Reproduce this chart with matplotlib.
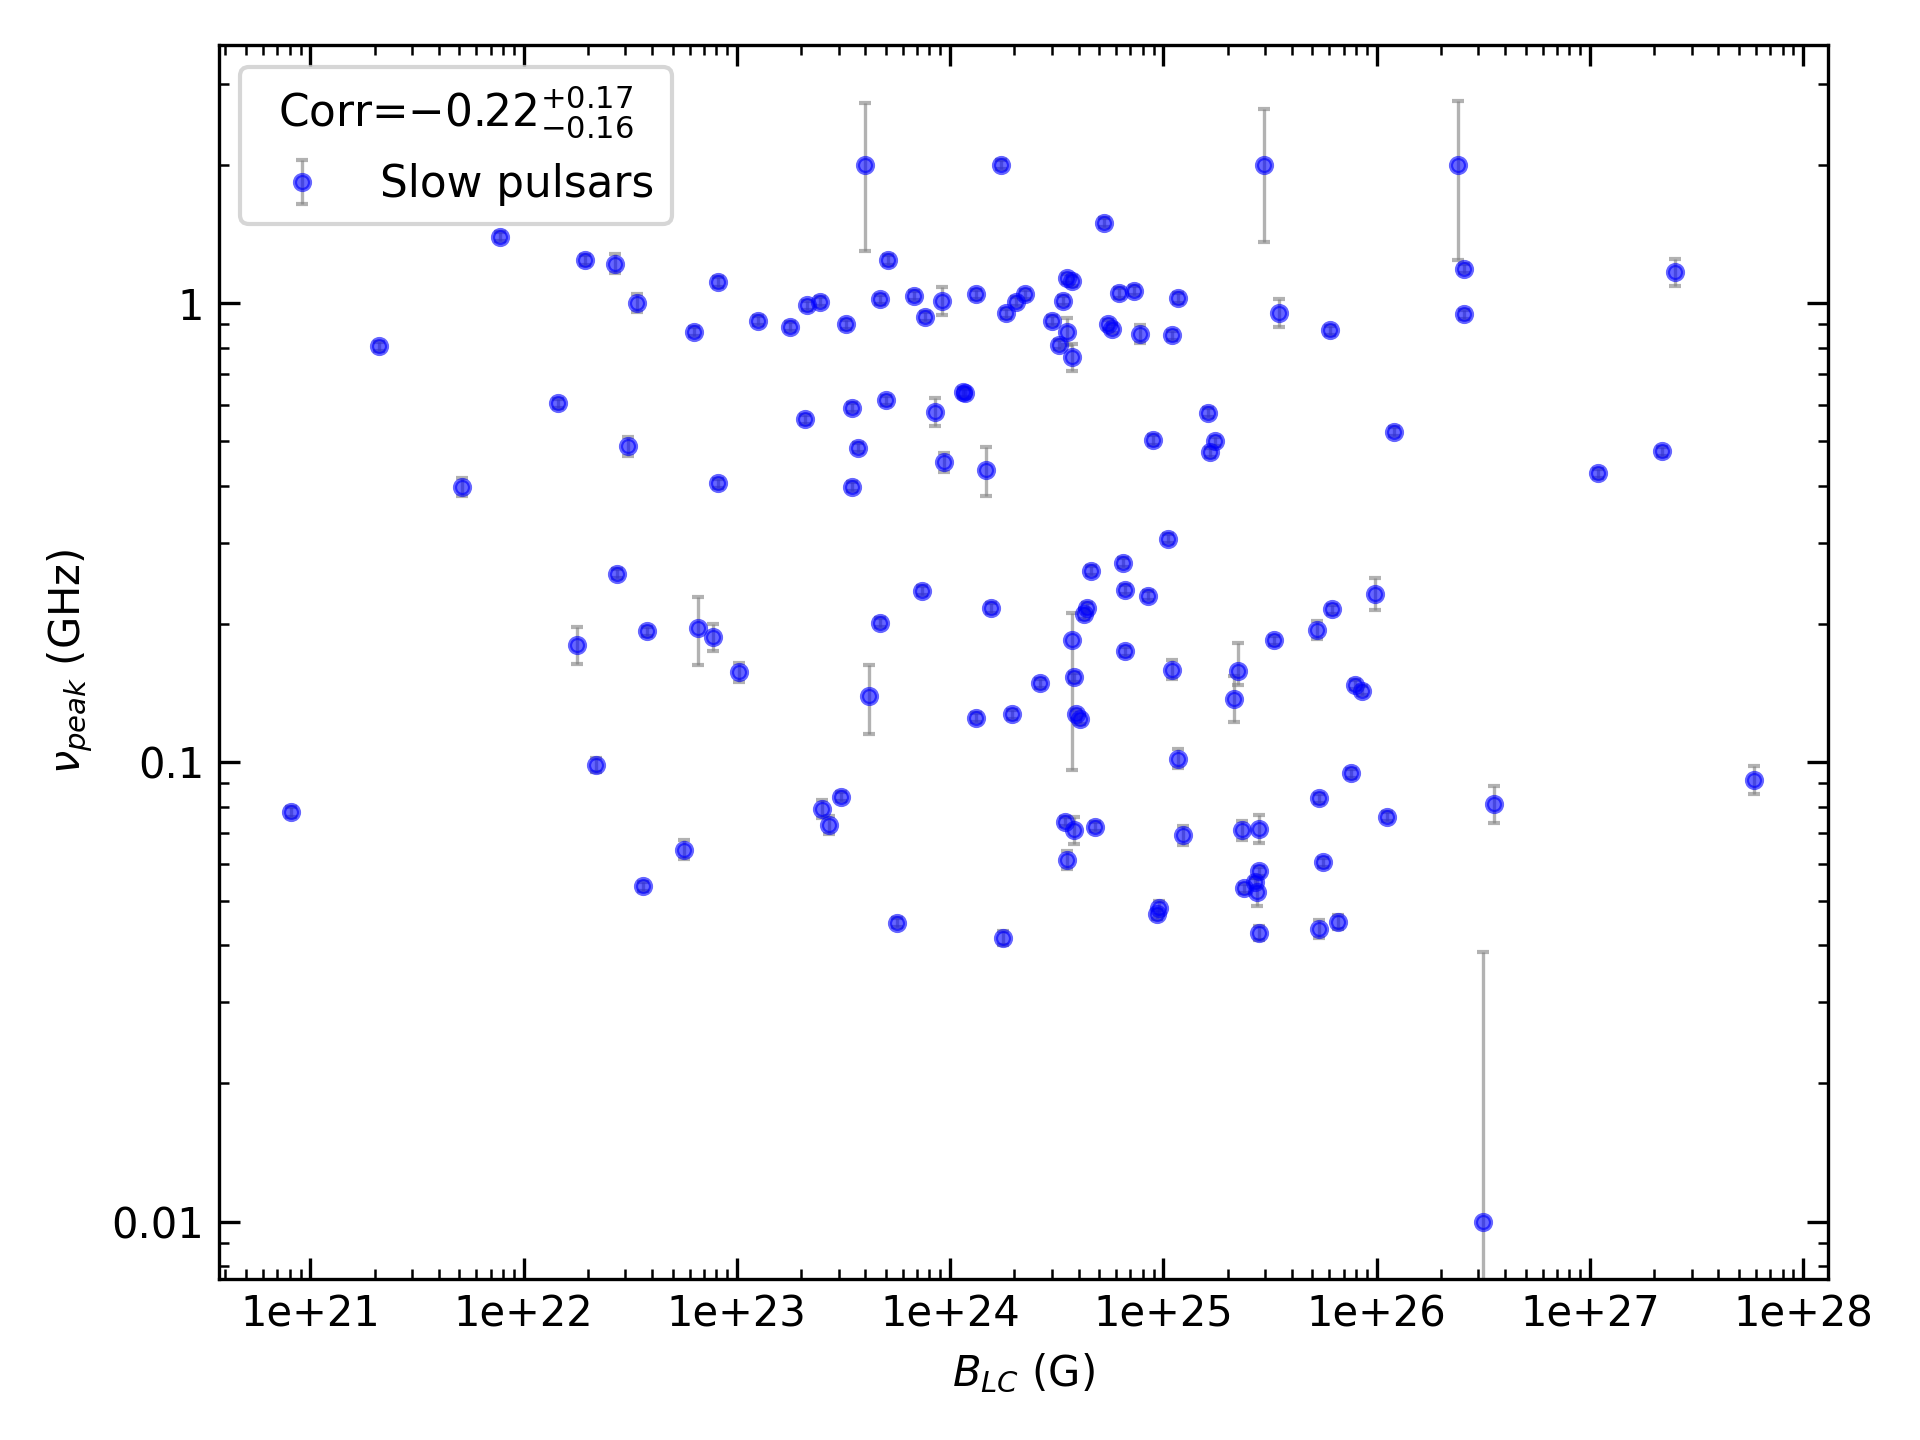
import numpy as np
import matplotlib
matplotlib.use("Agg")
import matplotlib.pyplot as plt
from matplotlib.ticker import FixedLocator, FixedFormatter, LogLocator, NullFormatter

# log10 of B_LC (G) and nu_peak (GHz)
log_b = [20.91, 21.32, 21.71, 21.89, 22.16, 22.25, 22.29, 22.34, 22.43, 22.44,
         22.49, 22.53, 22.56, 22.58, 22.75, 22.80, 22.82, 22.89, 22.91, 22.91,
         23.01, 23.10, 23.25, 23.32, 23.33, 23.39, 23.40, 23.43, 23.49, 23.51,
         23.54, 23.54, 23.57, 23.60, 23.62, 23.67, 23.67, 23.70, 23.71, 23.75,
         23.83, 23.87, 23.88, 23.93, 23.96, 23.97, 24.06, 24.07, 24.12, 24.12,
         24.17, 24.19, 24.24, 24.25, 24.26, 24.29, 24.31, 24.35, 24.42, 24.48,
         24.51, 24.53, 24.54, 24.55, 24.55, 24.55, 24.57, 24.57, 24.57, 24.58,
         24.58, 24.59, 24.61, 24.63, 24.64, 24.66, 24.68, 24.72, 24.74, 24.76,
         24.79, 24.81, 24.82, 24.82, 24.86, 24.89, 24.93, 24.95, 24.97, 24.98,
         25.02, 25.04, 25.04, 25.07, 25.07, 25.09, 25.21, 25.22, 25.24, 25.33,
         25.35, 25.37, 25.38, 25.43, 25.44, 25.45, 25.45, 25.45, 25.47, 25.52,
         25.54, 25.72, 25.73, 25.73, 25.75, 25.78, 25.79, 25.82, 25.88, 25.90,
         25.93, 25.99, 26.05, 26.08, 26.38, 26.41, 26.41, 26.50, 26.55, 27.04,
         27.34, 27.40, 27.77]
log_nu = [-1.108, -0.094, -0.400, 0.145, -0.218, -0.745, 0.094, -1.005, 0.086, -0.589,
          -0.312, 0.000, -1.270, -0.715, -1.190, -0.062, -0.707, -0.728, -0.392, 0.046,
          -0.804, -0.038, -0.051, -0.253, -0.005, 0.003, -1.102, -1.137, -1.075, -0.046,
          -0.228, -0.400, -0.315, 0.301, -0.855, -0.696, 0.008, -0.212, 0.094, -1.349,
          0.016, -0.626, -0.030, -0.237, 0.005, -0.347, -0.194, -0.196, 0.019, -0.903,
          -0.363, -0.664, 0.301, -1.382, -0.022, -0.895, 0.003, 0.019, -0.828, -0.038,
          -0.091, 0.005, -1.129, -0.062, -1.212, 0.054, 0.048, -0.734, -0.118, -0.815,
          -1.148, -0.895, -0.906, -0.677, -0.664, -0.583, -1.140, 0.175, -0.046, -0.056,
          0.022, -0.565, -0.624, -0.758, 0.027, -0.067, -0.637, -0.298, -1.331, -1.317,
          -0.513, -0.070, -0.798, -0.992, 0.011, -1.159, -0.239, -0.325, -0.301, -0.863,
          -0.801, -1.148, -1.274, -1.261, -1.282, -1.237, -1.145, -1.371, 0.301, -0.734,
          -0.022, -0.712, -1.078, -1.363, -1.218, -0.059, -0.667, -1.347, -1.024, -0.831,
          -0.844, -0.634, -1.118, -0.280, 0.301, 0.075, -0.024, -2.000, -1.091, -0.371,
          -0.323, 0.067, -1.038]
# error bar extents in dex (below, above)
err_lo = [0.01] * len(log_b)
err_hi = [0.01] * len(log_b)
big_err = {2: (0.02, 0.02), 5: (0.04, 0.04), 7: (0.015, 0.015), 8: (0.02, 0.02),
           10: (0.02, 0.02), 11: (0.02, 0.02), 14: (0.02, 0.02), 16: (0.081, 0.067),
           17: (0.03, 0.03), 20: (0.02, 0.02), 26: (0.02, 0.02), 27: (0.02, 0.02),
           33: (0.188, 0.134), 34: (0.083, 0.067), 35: (0.01, 0.01), 43: (0.03, 0.03),
           44: (0.03, 0.03), 45: (0.02, 0.02), 50: (0.056, 0.05), 53: (0.015, 0.015),
           63: (0.03, 0.03), 64: (0.02, 0.02), 67: (0.282, 0.059), 68: (0.03, 0.03),
           70: (0.03, 0.03), 85: (0.02, 0.02), 89: (0.015, 0.015), 92: (0.02, 0.02),
           93: (0.02, 0.02), 95: (0.02, 0.02), 99: (0.05, 0.05), 100: (0.03, 0.06),
           101: (0.02, 0.02), 104: (0.03, 0.03), 106: (0.03, 0.03), 107: (0.015, 0.015),
           108: (0.167, 0.121), 110: (0.03, 0.03), 111: (0.02, 0.02), 113: (0.02, 0.02),
           117: (0.015, 0.015), 121: (0.035, 0.035), 124: (0.207, 0.140),
           127: (1.0, 0.586), 128: (0.04, 0.04), 131: (0.03, 0.03), 132: (0.03, 0.03)}
for i, (lo, hi) in big_err.items():
    err_lo[i], err_hi[i] = lo, hi

b = 10 ** np.array(log_b)
nu = 10 ** np.array(log_nu)
lo = nu - 10 ** (np.array(log_nu) - np.array(err_lo))
hi = 10 ** (np.array(log_nu) + np.array(err_hi)) - nu

fig, ax = plt.subplots(figsize=(6.4, 4.8), dpi=300)
ax.errorbar(b, nu, yerr=[lo, hi], fmt="o", ms=3.6, color="blue", alpha=0.6,
            ecolor="gray", elinewidth=0.8, capsize=1.5, label="Slow pulsars")
ax.set_xscale("log")
ax.set_yscale("log")
ax.set_xlim(10 ** 20.57, 10 ** 28.115)
ax.set_ylim(10 ** -2.124, 10 ** 0.562)

xt = [10.0 ** k for k in range(21, 29)]
ax.xaxis.set_major_locator(FixedLocator(xt))
ax.xaxis.set_major_formatter(FixedFormatter([f"1e+{k}" for k in range(21, 29)]))
ax.xaxis.set_minor_locator(LogLocator(base=10, subs=np.arange(2, 10), numticks=100))
ax.xaxis.set_minor_formatter(NullFormatter())
ax.yaxis.set_major_locator(FixedLocator([0.01, 0.1, 1]))
ax.yaxis.set_major_formatter(FixedFormatter(["0.01", "0.1", "1"]))
ax.yaxis.set_minor_locator(LogLocator(base=10, subs=np.arange(2, 10), numticks=100))
ax.yaxis.set_minor_formatter(NullFormatter())
ax.tick_params(which="both", direction="in", top=True, right=True)
ax.tick_params(which="major", length=5)
ax.tick_params(which="minor", length=2.5)

ax.set_xlabel(r"$B_{LC}$ (G)")
ax.set_ylabel(r"$\nu_{peak}$ (GHz)")
ax.legend(title=r"Corr=$-0.22^{+0.17}_{-0.16}$", loc="upper left",
          fontsize=10.5, title_fontsize=10.5)
fig.tight_layout()
fig.savefig("out.png", dpi=300)
